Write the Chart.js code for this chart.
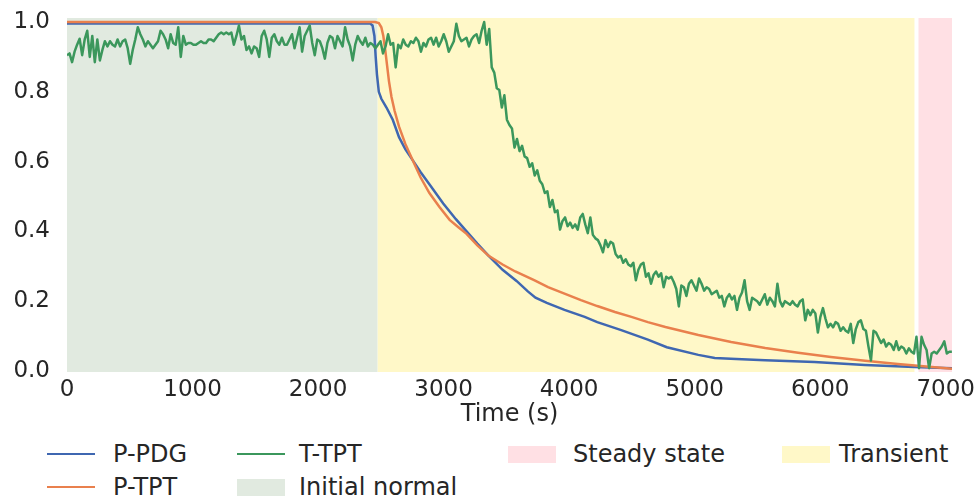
<!DOCTYPE html>
<html>
<head>
<meta charset="utf-8">
<script src="https://cdn.jsdelivr.net/npm/chart.js@4/dist/chart.umd.min.js"></script>
<style>
  body { margin: 0; background: #fff; font-family: 'DejaVu Sans', sans-serif; }
  #wrap { position: relative; width: 978px; height: 498px; }
  #chartBox { position: absolute; left: 0; top: 0; width: 978px; height: 432px; }
  .leg { position: absolute; color: #262626; font-size: 24px; line-height: 28px; white-space: nowrap; }
  .sw { position: absolute; }
</style>
</head>
<body>
<div id="wrap">
  <div id="chartBox"><canvas id="stateChart"></canvas></div>
  <div id="legend"></div>
</div>
<script>
// axis ticks
const xTicks = [0, 1000, 2000, 3000, 4000, 5000, 6000, 7000];
const yTicks = [0.0, 0.2, 0.4, 0.6, 0.8, 1.0];
const xMax = 7050;

// P-PDG (normalised pressure at PDG)
const pdgTime = [0, 503, 1006, 1509, 2012, 2414, 2434, 2449, 2459, 2469, 2484, 2504, 2545, 2595, 2645, 2696, 2752,
  2816, 2907, 2997, 3098, 3178, 3269, 3359, 3470, 3581, 3671, 3732, 3822, 3963, 4124, 4224, 4415,
  4627, 4778, 5029, 5160, 5331, 5562, 5954, 6357, 6749, 7050];
const pdgValues = [0.996, 0.996, 0.996, 0.996, 0.996, 0.996, 0.99, 0.96, 0.90, 0.85, 0.80, 0.78, 0.755, 0.72, 0.67, 0.635, 0.605,
  0.57, 0.525, 0.48, 0.435, 0.402, 0.365, 0.33, 0.29, 0.258, 0.228, 0.21, 0.195, 0.175, 0.155, 0.14, 0.117,
  0.09, 0.068, 0.046, 0.037, 0.034, 0.031, 0.026, 0.017, 0.011, 0.008];

// P-TPT
const ptptTime = [0, 1006, 2012, 2454, 2484, 2504, 2520, 2535, 2550, 2565, 2585, 2610, 2645, 2696, 2752, 2816,
  2887, 2967, 3048, 3118, 3183, 3269, 3359, 3470, 3571, 3721, 3832, 4094, 4224, 4365, 4496, 4627,
  4767, 5029, 5291, 5562, 5824, 6085, 6357, 6618, 7050];
const ptptValues = [1.0, 1.0, 1.0, 1.0, 0.997, 0.985, 0.96, 0.92, 0.875, 0.83, 0.785, 0.745, 0.70, 0.65, 0.605, 0.555,
  0.51, 0.47, 0.433, 0.412, 0.393, 0.36, 0.33, 0.305, 0.285, 0.26, 0.24, 0.203, 0.186, 0.169, 0.155, 0.14,
  0.126, 0.103, 0.083, 0.066, 0.052, 0.04, 0.029, 0.02, 0.006];

// T-TPT, one sample every ~20 s from t = 0 (each row = 10 samples)
const ttptStep = 20.14;
const ttptValues = [
  0.905, 0.91, 0.885, 0.915, 0.935, 0.952, 0.905, 0.95, 0.975, 0.90,
  0.96, 0.885, 0.95, 0.89, 0.92, 0.945, 0.93, 0.945, 0.935, 0.93,
  0.95, 0.93, 0.945, 0.95, 0.925, 0.88, 0.92, 0.95, 0.985, 0.965,
  0.95, 0.93, 0.945, 0.935, 0.925, 0.935, 0.945, 0.975, 0.965, 0.95,
  0.925, 0.965, 0.94, 0.935, 0.985, 0.90, 0.96, 0.935, 0.94, 0.94,
  0.935, 0.935, 0.94, 0.945, 0.94, 0.94, 0.95, 0.95, 0.945, 0.955,
  0.965, 0.97, 0.965, 0.97, 0.965, 0.97, 0.935, 0.96, 0.99, 0.95,
  0.96, 0.92, 0.93, 0.91, 0.93, 0.925, 0.90, 0.96, 0.975, 0.95,
  0.90, 0.955, 0.965, 0.945, 0.935, 0.955, 0.935, 0.935, 0.95, 0.965,
  0.925, 0.955, 0.985, 0.915, 0.96, 0.975, 0.99, 0.94, 0.905, 0.95,
  0.945, 0.925, 0.895, 0.94, 0.96, 0.955, 0.925, 0.96, 0.945, 0.93,
  0.985, 0.95, 0.93, 0.89, 0.935, 0.96, 0.945, 0.935, 0.955, 0.93,
  0.94, 0.935, 0.925, 0.935, 0.945, 0.91, 0.93, 0.965, 0.935, 0.94,
  0.87, 0.935, 0.925, 0.95, 0.935, 0.93, 0.945, 0.94, 0.955, 0.945,
  0.915, 0.94, 0.93, 0.95, 0.955, 0.935, 0.955, 0.93, 0.945, 0.965,
  0.945, 0.915, 0.93, 0.945, 0.995, 0.96, 0.945, 0.95, 0.955, 0.93,
  0.95, 0.96, 0.965, 0.94, 0.975, 1.0, 0.935, 0.98, 0.87, 0.855,
  0.81, 0.805, 0.755, 0.79, 0.72, 0.705, 0.695, 0.64, 0.665, 0.63,
  0.645, 0.615, 0.61, 0.585, 0.595, 0.56, 0.575, 0.545, 0.535, 0.51,
  0.515, 0.47, 0.49, 0.455, 0.46, 0.405, 0.43, 0.44, 0.415, 0.425,
  0.41, 0.42, 0.405, 0.44, 0.45, 0.42, 0.395, 0.44, 0.39, 0.38,
  0.375, 0.36, 0.34, 0.375, 0.355, 0.37, 0.365, 0.335, 0.325, 0.33,
  0.31, 0.32, 0.305, 0.30, 0.31, 0.26, 0.29, 0.305, 0.31, 0.27,
  0.28, 0.25, 0.275, 0.285, 0.27, 0.28, 0.24, 0.27, 0.265, 0.27,
  0.255, 0.235, 0.185, 0.245, 0.24, 0.215, 0.25, 0.26, 0.245, 0.23,
  0.265, 0.25, 0.23, 0.24, 0.235, 0.22, 0.225, 0.23, 0.21, 0.215,
  0.185, 0.21, 0.22, 0.205, 0.215, 0.175, 0.21, 0.225, 0.26, 0.20,
  0.175, 0.21, 0.205, 0.20, 0.19, 0.205, 0.22, 0.19, 0.21, 0.20,
  0.185, 0.25, 0.20, 0.185, 0.20, 0.195, 0.19, 0.20, 0.19, 0.185,
  0.20, 0.205, 0.145, 0.175, 0.16, 0.175, 0.165, 0.11, 0.155, 0.18,
  0.15, 0.125, 0.135, 0.125, 0.14, 0.135, 0.115, 0.125, 0.115, 0.11,
  0.135, 0.08, 0.12, 0.14, 0.145, 0.12, 0.115, 0.07, 0.03, 0.115,
  0.11, 0.095, 0.08, 0.09, 0.07, 0.08, 0.075, 0.06, 0.085, 0.06,
  0.07, 0.065, 0.05, 0.065, 0.055, 0.05, 0.098, 0.008, 0.098, 0.075,
  0.06, 0.008, 0.05, 0.055, 0.05, 0.06, 0.07, 0.085, 0.05, 0.055,
  0.055
];

// labelled periods (seconds)
const regionNames = ['Steady state', 'Transient', 'Initial normal'];
const regionStart = [6783, 2473, 0];
const regionEnd = [7050, 6751, 2473];
const regionColors = ['#ffe0e4', '#fff8c8', '#e1eae0'];

const seriesNames = ['P-PDG', 'P-TPT', 'T-TPT'];
const seriesColors = ['#3f67b1', '#e9804d', '#3b975c'];

function toPoints(times, values) {
  return values.map((v, i) => ({ x: times[i], y: v }));
}
const ttptTime = ttptValues.map((v, i) => i * ttptStep);

Chart.defaults.font.family = "'DejaVu Sans', sans-serif";
Chart.defaults.color = '#262626';

// shaded background periods
const regionPlugin = {
  id: 'regions',
  beforeDatasetsDraw(chart) {
    const { ctx, chartArea, scales } = chart;
    ctx.save();
    regionNames.forEach((name, i) => {
      const x0 = scales.x.getPixelForValue(regionStart[i]);
      const x1 = scales.x.getPixelForValue(regionEnd[i]);
      ctx.fillStyle = regionColors[i];
      ctx.fillRect(x0, chartArea.top, x1 - x0, chartArea.bottom - chartArea.top);
    });
    ctx.restore();
  }
};

const ctx = document.getElementById('stateChart');

new Chart(ctx, {
  type: 'line',
  data: {
    datasets: [
      {
        label: seriesNames[0],
        data: toPoints(pdgTime, pdgValues),
        borderColor: seriesColors[0],
        borderWidth: 2.5,
        pointRadius: 0,
        order: 3
      },
      {
        label: seriesNames[1],
        data: toPoints(ptptTime, ptptValues),
        borderColor: seriesColors[1],
        borderWidth: 2.5,
        pointRadius: 0,
        order: 2
      },
      {
        label: seriesNames[2],
        data: toPoints(ttptTime, ttptValues),
        borderColor: seriesColors[2],
        borderWidth: 2.5,
        pointRadius: 0,
        borderJoinStyle: 'round',
        order: 1
      }
    ]
  },
  options: {
    responsive: true,
    maintainAspectRatio: false,
    animation: false,
    layout: { padding: { top: 18, right: 26, bottom: 0, left: 0 } },
    plugins: {
      legend: { display: false },
      tooltip: { enabled: false }
    },
    scales: {
      x: {
        type: 'linear',
        min: 0,
        max: xMax,
        grid: { display: false, drawTicks: false },
        border: { display: false },
        afterBuildTicks: s => { s.ticks = xTicks.map(v => ({ value: v })); },
        afterFit: s => { s.height = 60; s.paddingLeft = 0; s.paddingRight = 0; },
        ticks: {
          padding: 4,
          maxRotation: 0,
          font: { size: 23 },
          callback: v => String(v)
        },
        title: {
          display: true,
          text: 'Time (s)',
          font: { size: 24 },
          padding: { top: 0, bottom: 3 }
        }
      },
      y: {
        min: -0.003,
        max: 1.0115,
        grid: { display: false, drawTicks: false },
        border: { display: false },
        afterBuildTicks: s => { s.ticks = yTicks.map(v => ({ value: v })); },
        afterFit: s => { s.width = 67; s.paddingTop = 0; s.paddingBottom = 0; },
        ticks: {
          padding: 17,
          font: { size: 23 },
          callback: v => Number(v).toFixed(1)
        }
      }
    }
  },
  plugins: [regionPlugin]
});

// legend below the plot, laid out in four columns like the original
const legend = document.getElementById('legend');
const legendItems = [
  { text: seriesNames[0], kind: 'line', color: seriesColors[0], col: 0, row: 0 },
  { text: seriesNames[1], kind: 'line', color: seriesColors[1], col: 0, row: 1 },
  { text: seriesNames[2], kind: 'line', color: seriesColors[2], col: 1, row: 0 },
  { text: regionNames[2], kind: 'box', color: regionColors[2], col: 1, row: 1 },
  { text: regionNames[0], kind: 'box', color: regionColors[0], col: 2, row: 0 },
  { text: regionNames[1], kind: 'box', color: regionColors[1], col: 3, row: 0 }
];
const colHandleX = [47, 237, 508, 782];
const colTextX = [113, 299, 573, 839];
const rowY = [454, 487];

legendItems.forEach(item => {
  const sw = document.createElement('div');
  sw.className = 'sw';
  const cy = rowY[item.row];
  sw.style.left = colHandleX[item.col] + 'px';
  sw.style.width = '48px';
  sw.style.background = item.color;
  if (item.kind === 'line') {
    sw.style.top = (cy - 1.25) + 'px';
    sw.style.height = '2.5px';
  } else {
    sw.style.top = (cy - 8.5) + 'px';
    sw.style.height = '17px';
  }
  legend.appendChild(sw);

  const t = document.createElement('div');
  t.className = 'leg';
  t.textContent = item.text;
  t.style.left = colTextX[item.col] + 'px';
  t.style.top = (cy - 14) + 'px';
  legend.appendChild(t);
});
</script>
</body>
</html>
